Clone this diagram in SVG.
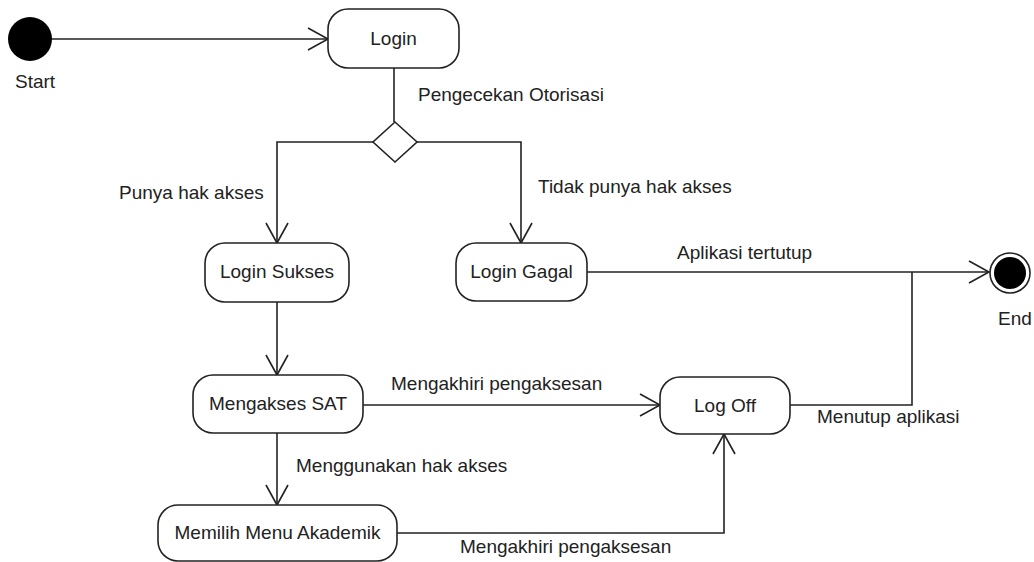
<svg xmlns="http://www.w3.org/2000/svg" width="1034" height="562" viewBox="0 0 1034 562">
  <style>
    .state { fill: #ffffff; stroke: #222222; stroke-width: 1.6; }
    .label { font-family: "Liberation Sans", Arial, sans-serif; font-size: 19px; fill: #222222; }
    .center { text-anchor: middle; }
    .edge { fill: none; stroke: #222222; stroke-width: 1.6; }
    .arrow { marker-end: url(#open-arrow); }
  </style>
  <defs>
    <marker id="open-arrow" markerUnits="userSpaceOnUse" markerWidth="24" markerHeight="26" viewBox="-22 -13 24 26" refX="0" refY="0" orient="auto">
      <path d="M -20 -11 L 0 0 L -20 11" fill="none" stroke="#222222" stroke-width="1.6"/>
    </marker>
  </defs>

  <rect width="1034" height="562" fill="#ffffff"/>

  <!-- transitions -->
  <g id="connectors">
    <path class="edge arrow" d="M 52 39 L 328 39"/>
    <path class="edge" d="M 394 68 L 394 122"/>
    <path class="edge arrow" d="M 373 142 L 277 142 L 277 243"/>
    <path class="edge arrow" d="M 417 142 L 521 142 L 521 243"/>
    <path class="edge arrow" d="M 587 272 L 989 272"/>
    <path class="edge" d="M 790 405 L 912 405 L 912 272"/>
    <path class="edge arrow" d="M 277 302 L 277 375"/>
    <path class="edge arrow" d="M 363 405 L 660 405"/>
    <path class="edge arrow" d="M 277 433 L 277 505"/>
    <path class="edge arrow" d="M 397 533 L 724 533 L 724 434"/>

    <text class="label" x="418" y="101">Pengecekan Otorisasi</text>
    <text class="label" x="119" y="199">Punya hak akses</text>
    <text class="label" x="538" y="193">Tidak punya hak akses</text>
    <text class="label" x="677" y="259">Aplikasi tertutup</text>
    <text class="label" x="391" y="390">Mengakhiri pengaksesan</text>
    <text class="label" x="296" y="472">Menggunakan hak akses</text>
    <text class="label" x="817" y="423">Menutup aplikasi</text>
    <text class="label" x="460" y="553">Mengakhiri pengaksesan</text>
  </g>

  <!-- states -->
  <g id="start">
    <circle cx="30" cy="39" r="22" fill="#000000"/>
    <text class="label" x="15" y="88">Start</text>
  </g>

  <g id="login">
    <rect class="state" x="328" y="9" width="131" height="59" rx="20"/>
    <text class="label center" x="393.5" y="45">Login</text>
  </g>

  <g id="otorisasi">
    <polygon class="state" points="395,122 417,142 395,162 373,142"/>
  </g>

  <g id="login-sukses">
    <rect class="state" x="205" y="243" width="144" height="59" rx="20"/>
    <text class="label center" x="277" y="278">Login Sukses</text>
  </g>

  <g id="login-gagal">
    <rect class="state" x="456" y="243" width="131" height="58" rx="20"/>
    <text class="label center" x="521.5" y="278">Login Gagal</text>
  </g>

  <g id="mengakses-sat">
    <rect class="state" x="193" y="375" width="170" height="58" rx="20"/>
    <text class="label center" x="278" y="410">Mengakses SAT</text>
  </g>

  <g id="memilih-menu">
    <rect class="state" x="158" y="505" width="239" height="56" rx="20"/>
    <text class="label center" x="277.5" y="539">Memilih Menu Akademik</text>
  </g>

  <g id="log-off">
    <rect class="state" x="660" y="377" width="130" height="57" rx="20"/>
    <text class="label center" x="725" y="412">Log Off</text>
  </g>

  <g id="end">
    <circle cx="1010" cy="273" r="20" fill="#ffffff" stroke="#222222" stroke-width="1.6"/>
    <circle cx="1010" cy="273" r="16" fill="#000000"/>
    <text class="label" x="998" y="325">End</text>
  </g>
</svg>
